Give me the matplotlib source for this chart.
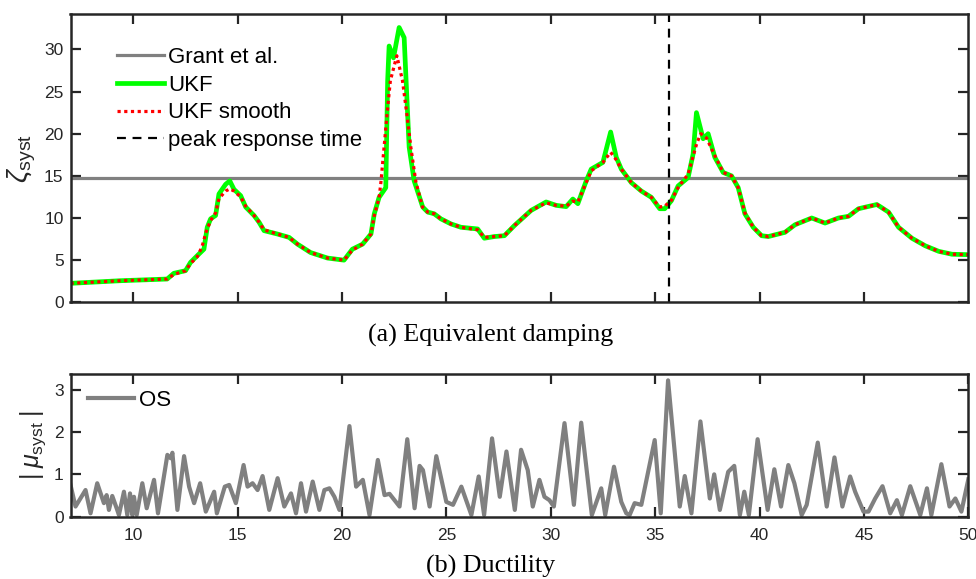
import matplotlib
matplotlib.use('Agg')
import matplotlib.pyplot as plt
import numpy as np

plt.rcParams['font.family'] = ['Liberation Sans', 'DejaVu Sans']
plt.rcParams['mathtext.fontset'] = 'custom'
plt.rcParams['mathtext.rm'] = 'Liberation Sans'
plt.rcParams['mathtext.it'] = 'Liberation Sans:italic'

# equivalent damping, UKF estimate
t_ukf = [7.0, 9.39, 11.63, 11.95, 12.51, 12.75, 13.07, 13.39, 13.55, 13.71, 13.95, 14.11, 14.43,
         14.63, 14.83, 15.15, 15.39, 15.79, 16.03, 16.27, 16.91, 17.47, 17.87, 18.5, 19.31, 20.1,
         20.5, 20.99, 21.39, 21.55, 21.78, 22.1, 22.19, 22.26, 22.47, 22.74, 22.98, 23.11, 23.22,
         23.46, 23.87, 24.11, 24.42, 24.74, 25.22, 25.7, 26.5, 26.82, 27.3, 27.78, 28.26, 29.06,
         29.78, 30.26, 30.74, 31.06, 31.3, 31.7, 31.94, 32.5, 32.87, 33.14, 33.38, 33.86, 34.34,
         34.82, 35.22, 35.46, 35.78, 36.1, 36.58, 36.82, 36.98, 37.3, 37.54, 37.86, 38.26, 38.66,
         38.98, 39.3, 39.7, 40.1, 40.42, 41.22, 41.7, 42.5, 43.14, 43.78, 44.26, 44.74, 45.62,
         46.18, 46.66, 47.3, 47.94, 48.58, 49.22, 50.0]
zeta_ukf = [2.25, 2.56, 2.76, 3.44, 3.75, 4.74, 5.53, 6.3, 8.9, 9.9, 10.3, 12.85, 14.0,
            14.4, 13.4, 12.65, 11.3, 10.3, 9.5, 8.5, 8.1, 7.7, 6.9, 5.9, 5.25, 5.0,
            6.3, 6.9, 8.1, 10.5, 12.45, 13.6, 26.3, 30.4, 29.0, 32.6, 31.4, 24.3, 18.4,
            14.4, 11.3, 10.7, 10.5, 9.9, 9.3, 8.9, 8.7, 7.6, 7.8, 7.9, 9.1, 10.9,
            11.9, 11.5, 11.35, 12.25, 11.7, 14.4, 15.8, 16.6, 20.2, 17.2, 15.8, 14.2, 13.2,
            12.45, 11.1, 11.1, 12.05, 13.8, 14.8, 17.6, 22.5, 19.4, 20.0, 17.2, 15.4, 15.0,
            13.6, 10.5, 8.9, 7.9, 7.8, 8.3, 9.2, 10.0, 9.4, 10.0, 10.2, 11.1, 11.6,
            10.7, 8.9, 7.6, 6.7, 6.05, 5.7, 5.65]

# smoothed UKF estimate
t_smooth = [7.0, 9.39, 11.63, 11.95, 12.51, 12.75, 13.07, 13.3, 13.5, 13.71, 13.95, 14.11, 14.43,
            14.63, 14.83, 15.15, 15.39, 15.79, 16.03, 16.27, 16.91, 17.47, 17.87, 18.5, 19.31, 20.1,
            20.5, 20.99, 21.39, 21.55, 21.78, 21.87, 22.16, 22.32, 22.63, 22.9, 23.11, 23.3,
            23.54, 23.86, 24.11, 24.42, 24.74, 25.22, 25.7, 26.5, 26.82, 27.3, 27.78, 28.26, 29.06,
            29.78, 30.26, 30.74, 31.06, 31.3, 31.7, 31.94, 32.5, 32.87, 33.14, 33.38, 33.86, 34.34,
            34.82, 35.22, 35.46, 35.78, 36.1, 36.58, 37.0, 37.19, 37.46, 37.78, 38.26, 38.66,
            38.98, 39.3, 39.7, 40.1, 40.42, 41.22, 41.7, 42.5, 43.14, 43.78, 44.26, 44.74, 45.62,
            46.18, 46.66, 47.3, 47.94, 48.58, 49.22, 50.0]
zeta_smooth = [2.25, 2.56, 2.76, 3.3, 3.75, 4.6, 5.4, 6.6, 8.4, 9.7, 10.6, 12.3, 13.2,
               13.45, 13.2, 12.5, 11.4, 10.3, 9.5, 8.6, 8.1, 7.7, 6.9, 5.9, 5.25, 5.0,
               6.2, 6.9, 8.1, 10.3, 12.4, 14.3, 22.3, 26.3, 29.25, 26.3, 22.3, 18.4,
               14.3, 11.3, 10.7, 10.5, 9.9, 9.3, 8.9, 8.6, 7.7, 7.8, 7.9, 9.1, 10.9,
               11.8, 11.5, 11.4, 12.0, 11.9, 14.2, 15.6, 16.6, 17.8, 16.9, 15.8, 14.2, 13.2,
               12.45, 11.3, 11.4, 12.1, 13.6, 15.2, 18.9, 20.0, 19.5, 17.8, 15.4, 15.0,
               13.6, 10.6, 8.9, 7.9, 7.8, 8.3, 9.2, 10.0, 9.4, 10.0, 10.2, 11.1, 11.6,
               10.7, 8.9, 7.6, 6.7, 6.05, 5.7, 5.65]

zeta_grant = 14.7
t_peak = 35.65

# ductility, OS
t_os = [7.0, 7.24, 7.72, 7.96, 8.28, 8.6, 8.73, 8.84, 9.0, 9.21, 9.32, 9.56, 9.72, 9.85, 9.96,
        10.04, 10.17, 10.44, 10.65, 11.0, 11.19, 11.64, 11.8, 11.88, 12.12, 12.44, 12.68, 12.92,
        13.21, 13.48, 13.88, 14.01, 14.39, 14.6, 14.92, 15.29, 15.48, 15.72, 15.96, 16.2, 16.52,
        16.92, 17.24, 17.56, 17.8, 18.04, 18.28, 18.6, 18.92, 19.16, 19.4, 19.64, 19.88, 20.36,
        20.68, 21.0, 21.32, 21.72, 22.04, 22.28, 22.76, 23.13, 23.48, 23.72, 23.88, 24.2, 24.52,
        25.0, 25.32, 25.72, 26.2, 26.55, 26.81, 27.19, 27.56, 27.88, 28.28, 28.58, 28.9, 29.14,
        29.46, 29.7, 29.94, 30.15, 30.66, 31.11, 31.46, 31.97, 32.42, 32.61, 33.03, 33.38, 33.62,
        33.78, 34.02, 34.34, 34.98, 35.27, 35.62, 36.18, 36.42, 36.74, 37.17, 37.62, 37.83, 38.1,
        38.5, 38.79, 39.06, 39.27, 39.49, 39.91, 40.39, 40.71, 41.03, 41.38, 41.67, 42.02, 42.26,
        42.79, 43.22, 43.59, 43.97, 44.34, 44.58, 44.98, 45.22, 45.54, 45.89, 46.26, 46.58, 46.82,
        47.22, 47.7, 48.02, 48.23, 48.71, 49.1, 49.38, 49.67, 50.0]
mu_os = [0.75, 0.24, 0.63, 0.08, 0.79, 0.32, 0.51, 0.16, 0.49, 0.2, 0.04, 0.59, 0.04, 0.55, 0.04,
         0.47, 0.04, 0.79, 0.2, 0.87, 0.08, 1.46, 1.38, 1.51, 0.16, 1.43, 0.71, 0.32,
         0.79, 0.12, 0.59, 0.08, 0.71, 0.75, 0.32, 1.22, 0.71, 0.79, 0.63, 0.96, 0.16,
         0.91, 0.24, 0.55, 0.08, 0.79, 0.12, 0.83, 0.16, 0.63, 0.67, 0.47, 0.16, 2.14,
         0.71, 0.87, 0.04, 1.34, 0.51, 0.54, 0.24, 1.83, 0.2, 1.2, 1.1, 0.24, 1.43,
         0.35, 0.28, 0.71, 0.04, 0.95, 0.04, 1.85, 0.47, 1.54, 0.16, 1.58, 1.1, 0.24,
         0.87, 0.47, 0.39, 0.24, 2.21, 0.28, 2.22, 0.04, 0.67, 0.04, 1.18, 0.35, 0.08,
         0.04, 0.32, 0.28, 1.81, 0.08, 3.22, 0.24, 0.96, 0.08, 2.25, 0.43, 1.0, 0.16,
         1.06, 1.2, 0.04, 0.59, 0.04, 1.83, 0.16, 1.12, 0.24, 1.22, 0.79, 0.04, 0.28,
         1.75, 0.24, 1.4, 0.24, 0.95, 0.59, 0.12, 0.12, 0.43, 0.72, 0.08, 0.39, 0.04,
         0.72, 0.04, 0.67, 0.04, 1.24, 0.24, 0.43, 0.12, 0.88]

W, H = 976, 579
fig = plt.figure(figsize=(W / 100, H / 100), dpi=100)
ax1 = fig.add_axes([70.5 / W, 1 - 302.3 / H, 897.8 / W, 288.3 / H])
ax2 = fig.add_axes([70.5 / W, 1 - 516.7 / H, 897.8 / W, 142.7 / H])

dark = '#262626'

ax1.axhline(zeta_grant, color='#808080', lw=2.3, label='Grant et al.')
ax1.plot(t_ukf, zeta_ukf, color='#00ff00', lw=3.4, solid_joinstyle='round', label='UKF')
ax1.plot(t_smooth, zeta_smooth, color='#ff0000', lw=2.3, linestyle=(0, (1, 1.1)), label='UKF smooth')
ax1.axvline(t_peak, color='black', lw=1.6, linestyle=(0, (4, 3)), label='peak response time')
ax1.set_xlim(7, 50)
ax1.set_ylim(0, 34.2)
ax1.set_yticks([0, 5, 10, 15, 20, 25, 30])
ax1.set_xticks([10, 15, 20, 25, 30, 35, 40, 45])
ax1.set_xticklabels([])
ax1.set_ylabel(r'$\zeta_{\mathrm{syst}}$', fontsize=20, color=dark, labelpad=4)
ax1.legend(loc='upper left', bbox_to_anchor=(0.052, 0.885), frameon=False, fontsize=16,
           handlelength=2.1, handletextpad=0.2, labelspacing=0.3, borderaxespad=0, borderpad=0)

ax2.plot(t_os, mu_os, color='#808080', lw=3.0, solid_joinstyle='round', label='OS')
ax2.set_xlim(7, 50)
ax2.set_ylim(0, 3.37)
ax2.set_yticks([0, 1, 2, 3])
ax2.set_xticks([10, 15, 20, 25, 30, 35, 40, 45, 50])
ax2.set_ylabel(r'$|\;\mu_{\mathrm{syst}}\;|$', fontsize=18, color=dark, labelpad=4)
ax2.legend(loc='upper left', bbox_to_anchor=(0.019, 0.89), frameon=False, fontsize=16,
           handlelength=2.1, handletextpad=0.2, borderaxespad=0, borderpad=0)

for ax in (ax1, ax2):
    ax.tick_params(direction='in', top=True, right=True, length=7, width=1.6,
                   labelsize=12.5, colors=dark)
    ax.tick_params(axis='x', pad=8)
    ax.tick_params(axis='y', pad=5)
    for sp in ax.spines.values():
        sp.set_linewidth(1.8)
        sp.set_color(dark)

fig.text(0.503, 1 - 335 / H, '(a) Equivalent damping', ha='center', va='center',
         fontsize=18.7, family='Liberation Serif')
fig.text(0.503, 1 - 566 / H, '(b) Ductility', ha='center', va='center',
         fontsize=18.7, family='Liberation Serif')

fig.savefig('out.png', dpi=100)
